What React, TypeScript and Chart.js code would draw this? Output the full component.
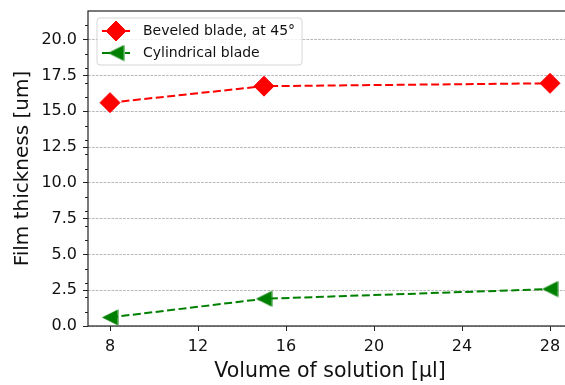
import React, { useEffect, useRef } from "react";
import { Chart, registerables } from "chart.js";

Chart.register(...registerables);

const volumes = [8, 15, 28];
const beveled = [15.6, 16.75, 16.95];
const cylindrical = [0.6, 1.9, 2.58];
const xTicks = [8, 12, 16, 20, 24, 28];
const yTicks = [0, 2.5, 5, 7.5, 10, 12.5, 15, 17.5, 20];
const yMinorTicks = [1, 2, 3, 4, 6, 7, 8, 9, 11, 12, 13, 14, 16, 17, 18, 19, 21];
const seriesLabels = ["Beveled blade, at 45°", "Cylindrical blade"];
const xTitle = "Volume of solution [μl]";
const yTitle = "Film thickness [um]";

const FONT = "'DejaVu Sans', 'Liberation Sans', sans-serif";
const RED = "#ff0000";
const GREEN = "#008000";
const AXIS = "#222222";
const RIGHT_OVERHANG = 7; // plot area continues past the cropped right edge

function makeLeftTriangle(color: string, size: number): HTMLCanvasElement {
  const c = document.createElement("canvas");
  c.width = size;
  c.height = size;
  const ctx = c.getContext("2d")!;
  ctx.fillStyle = color;
  ctx.beginPath();
  ctx.moveTo(0.5, size / 2);
  ctx.lineTo(size - 0.5, 0.5);
  ctx.lineTo(size - 0.5, size - 0.5);
  ctx.closePath();
  ctx.fill();
  return c;
}

function drawMarker(ctx: CanvasRenderingContext2D, ds: any, x: number, y: number) {
  const ps = ds.pointStyle;
  if (ps instanceof HTMLCanvasElement) {
    ctx.drawImage(ps, x - ps.width / 2, y - ps.height / 2);
  } else {
    const r = ds.pointRadius;
    ctx.beginPath();
    ctx.moveTo(x - r, y);
    ctx.lineTo(x, y - r);
    ctx.lineTo(x + r, y);
    ctx.lineTo(x, y + r);
    ctx.closePath();
    ctx.fillStyle = ds.pointBackgroundColor;
    ctx.fill();
    ctx.lineWidth = ds.pointBorderWidth;
    ctx.strokeStyle = ds.pointBorderColor;
    ctx.stroke();
  }
}

const overhangPlugin = {
  id: "overhang",
  afterLayout(chart: any) {
    const xs = chart.scales.x;
    chart.chartArea.right += RIGHT_OVERHANG;
    chart.chartArea.width = chart.chartArea.right - chart.chartArea.left;
    xs.right += RIGHT_OVERHANG;
    xs.width += RIGHT_OVERHANG;
    xs.configure();
  },
};

const framePlugin = {
  id: "frameAndMinor",
  afterDatasetsDraw(chart: any) {
    const { ctx, chartArea } = chart;
    const { left, right, top, bottom } = chartArea;
    const ys = chart.scales.y;
    ctx.save();
    ctx.setLineDash([]);
    ctx.strokeStyle = AXIS;
    ctx.lineWidth = 1;
    for (const v of yMinorTicks) {
      const py = Math.round(ys.getPixelForValue(v)) + 0.5;
      ctx.beginPath();
      ctx.moveTo(left - 3, py);
      ctx.lineTo(left, py);
      ctx.stroke();
    }
    ctx.lineWidth = 1.2;
    ctx.strokeRect(left, top, right - left, bottom - top);
    ctx.restore();
  },
};

const legendPlugin = {
  id: "mplLegend",
  afterDraw(chart: any) {
    const { ctx, chartArea } = chart;
    const datasets = chart.data.datasets;
    const bx = chartArea.left + 9;
    const by = chartArea.top + 7;
    const rowH = 22;
    ctx.save();
    ctx.font = `14px ${FONT}`;
    let maxW = 0;
    for (const ds of datasets) maxW = Math.max(maxW, ctx.measureText(ds.label).width);
    const textX = bx + 46;
    const bw = textX - bx + maxW + 7;
    const bh = 47;
    const r = 3;
    ctx.beginPath();
    ctx.moveTo(bx + r, by);
    ctx.lineTo(bx + bw - r, by);
    ctx.arcTo(bx + bw, by, bx + bw, by + r, r);
    ctx.lineTo(bx + bw, by + bh - r);
    ctx.arcTo(bx + bw, by + bh, bx + bw - r, by + bh, r);
    ctx.lineTo(bx + r, by + bh);
    ctx.arcTo(bx, by + bh, bx, by + bh - r, r);
    ctx.lineTo(bx, by + r);
    ctx.arcTo(bx, by, bx + r, by, r);
    ctx.closePath();
    ctx.fillStyle = "rgba(255,255,255,0.8)";
    ctx.fill();
    ctx.strokeStyle = "rgba(204,204,204,0.8)";
    ctx.lineWidth = 1;
    ctx.stroke();
    datasets.forEach((ds: any, i: number) => {
      const cy = by + 13 + i * rowH;
      ctx.beginPath();
      ctx.setLineDash(ds.borderDash || []);
      ctx.strokeStyle = ds.borderColor;
      ctx.lineWidth = ds.borderWidth;
      ctx.moveTo(bx + 5, cy);
      ctx.lineTo(bx + 33, cy);
      ctx.stroke();
      ctx.setLineDash([]);
      drawMarker(ctx, ds, bx + 19, cy);
      ctx.fillStyle = "#111";
      ctx.textBaseline = "middle";
      ctx.textAlign = "left";
      ctx.fillText(ds.label, textX, cy);
    });
    ctx.restore();
  },
};

export default function App() {
  const ref = useRef<HTMLCanvasElement>(null);
  useEffect(() => {
    const triangle = makeLeftTriangle(GREEN, 17);
    const chart = new Chart(ref.current!, {
      type: "scatter",
      data: {
        datasets: [
          {
            label: seriesLabels[0],
            data: volumes.map((x, i) => ({ x, y: beveled[i] })),
            showLine: true,
            borderColor: RED,
            backgroundColor: RED,
            borderWidth: 2,
            borderDash: [8, 3.5],
            pointStyle: "rectRot",
            pointRadius: 10,
            pointBorderWidth: 1,
            pointBackgroundColor: RED,
            pointBorderColor: RED,
            clip: false,
          },
          {
            label: seriesLabels[1],
            data: volumes.map((x, i) => ({ x, y: cylindrical[i] })),
            showLine: true,
            borderColor: GREEN,
            backgroundColor: GREEN,
            borderWidth: 2,
            borderDash: [8, 3.5],
            pointStyle: triangle as any,
            pointRadius: 8,
            pointBackgroundColor: GREEN,
            pointBorderColor: GREEN,
            clip: false,
          },
        ],
      },
      options: {
        responsive: false,
        animation: false,
        devicePixelRatio: 1,
        layout: { autoPadding: false, padding: { left: 0, top: 11, right: 0, bottom: 0 } },
        plugins: {
          legend: { display: false },
          tooltip: { enabled: false },
        },
        scales: {
          x: {
            type: "linear",
            min: 7,
            max: 29,
            afterBuildTicks: (s: any) => {
              s.ticks = xTicks.map((v) => ({ value: v }));
            },
            afterFit: (s: any) => {
              s.height = 59;
              s.paddingLeft = 0;
              s.paddingRight = 0;
            },
            ticks: {
              color: "#111",
              font: { family: FONT, size: 16 },
              padding: 6,
              maxRotation: 0,
              callback: (v: any) => String(v),
            },
            grid: {
              drawOnChartArea: false,
              drawTicks: true,
              tickLength: 5,
              tickColor: AXIS,
              tickWidth: 1,
            },
            border: { display: false },
            title: {
              display: true,
              text: xTitle,
              color: "#111",
              font: { family: FONT, size: 20.5 },
              padding: { top: 4, bottom: 1 },
            },
          },
          y: {
            type: "linear",
            min: 0,
            max: 22,
            afterBuildTicks: (s: any) => {
              s.ticks = yTicks.map((v) => ({ value: v }));
            },
            afterFit: (s: any) => {
              s.width = 88;
              s.paddingTop = 0;
              s.paddingBottom = 0;
            },
            ticks: {
              color: "#111",
              font: { family: FONT, size: 16 },
              padding: 6,
              callback: (v: any) => Number(v).toFixed(1),
            },
            grid: {
              color: "rgba(128,128,128,0.8)",
              lineWidth: 0.7,
              drawTicks: true,
              tickLength: 5,
              tickColor: AXIS,
              tickWidth: 1,
            },
            border: { display: false, dash: [2.7, 1.2] },
            title: {
              display: true,
              text: yTitle,
              color: "#111",
              font: { family: FONT, size: 20 },
              padding: { top: 10.5, bottom: 4 },
            },
          },
        },
      },
      plugins: [overhangPlugin, framePlugin, legendPlugin],
    } as any);
    return () => chart.destroy();
  }, []);
  return (
    <div
      style={{
        position: "fixed",
        left: 0,
        top: 0,
        width: 565,
        height: 385,
        overflow: "hidden",
        background: "#fff",
      }}
    >
      <canvas ref={ref} width={565} height={385} style={{ display: "block", width: 565, height: 385 }} />
    </div>
  );
}
